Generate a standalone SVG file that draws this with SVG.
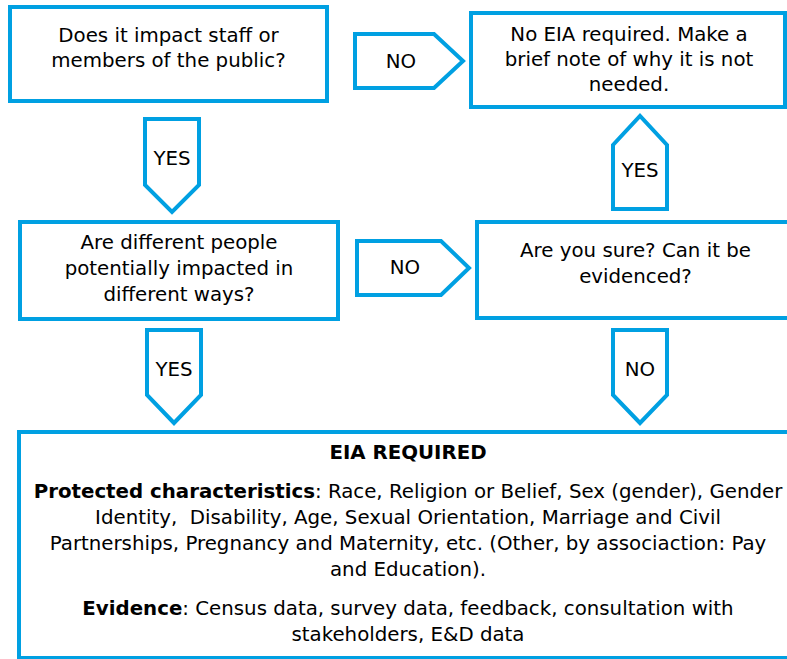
<svg xmlns="http://www.w3.org/2000/svg" width="787" height="659" viewBox="0 0 787 659">
<style>
.box{fill:#fff;stroke:#00A0E2;stroke-width:4}
.arr{fill:#fff;stroke:#00A0E2;stroke-width:4;stroke-linejoin:miter}
text{font-family:"DejaVu Sans",Verdana,sans-serif;font-size:19.8px;fill:#000;text-anchor:middle;white-space:pre}
.b{font-weight:bold}
</style>
<rect width="787" height="659" fill="#fff"/>
<g id="connectors">
<path class="arr" d="M355,34 H434 L463,61 L434,88 H355 Z"/>
<text x="401" y="68">NO</text>
<path class="arr" d="M145,119 H199 V185 L172,212 L145,185 Z"/>
<text x="172" y="165">YES</text>
<path class="arr" d="M357,241 H441 L469,268 L441,295 H357 Z"/>
<text x="405" y="274">NO</text>
<path class="arr" d="M613,209 V145 L640,116 L667,145 V209 Z"/>
<text x="640" y="177">YES</text>
<path class="arr" d="M147,330 H201 V395 L174,423 L147,395 Z"/>
<text x="174" y="376">YES</text>
<path class="arr" d="M613,330 H667 V395 L640,423 L613,395 Z"/>
<text x="640" y="376">NO</text>
</g>
<g id="q1">
<rect class="box" x="10" y="7" width="317" height="94"/>
<text x="168.5" y="42">Does it impact staff or</text>
<text x="168.5" y="67">members of the public?</text>
</g>
<g id="noeia">
<rect class="box" x="471" y="13" width="314" height="94"/>
<text x="629" y="41">No EIA required. Make a</text>
<text x="629" y="66">brief note of why it is not</text>
<text x="629" y="91">needed.</text>
</g>
<g id="q2">
<rect class="box" x="20" y="222" width="318" height="97"/>
<text x="179" y="249">Are different people</text>
<text x="179" y="275">potentially impacted in</text>
<text x="179" y="301">different ways?</text>
</g>
<g id="sure">
<rect class="box" x="477" y="222" width="330" height="96"/>
<text x="635.5" y="257">Are you sure? Can it be</text>
<text x="635.5" y="283">evidenced?</text>
</g>
<g id="eia">
<rect class="box" x="19" y="432" width="790" height="226"/>
<text x="408" y="459" class="b">EIA REQUIRED</text>
<text x="408" y="498"><tspan class="b">Protected characteristics</tspan>: Race, Religion or Belief, Sex (gender), Gender</text>
<text x="408" y="524">Identity,  Disability, Age, Sexual Orientation, Marriage and Civil</text>
<text x="408" y="550">Partnerships, Pregnancy and Maternity, etc. (Other, by associaction: Pay</text>
<text x="408" y="576">and Education).</text>
<text x="408" y="615"><tspan class="b">Evidence</tspan>: Census data, survey data, feedback, consultation with</text>
<text x="408" y="641">stakeholders, E&amp;D data</text>
</g>
</svg>
